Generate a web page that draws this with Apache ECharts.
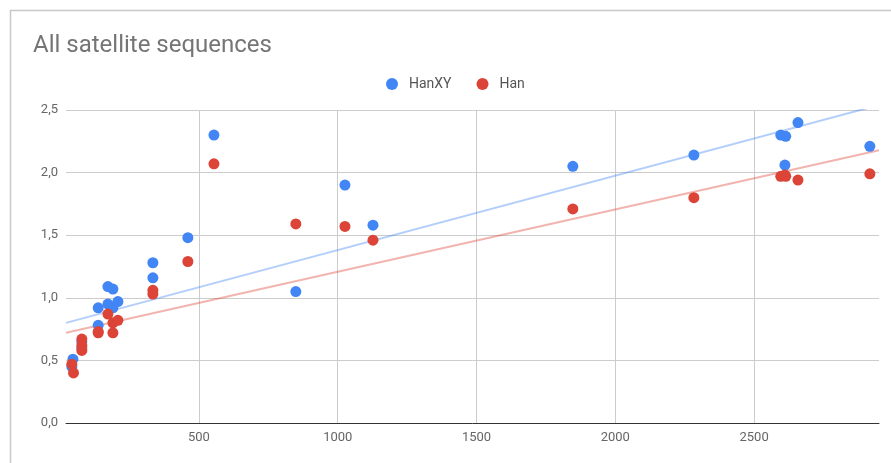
<!DOCTYPE html>
<html>
<head>
<meta charset="utf-8">
<script src="https://cdn.jsdelivr.net/npm/echarts@6/dist/echarts.min.js"></script>
<style>
html,body{margin:0;padding:0;background:#fff;}
#c{width:891px;height:463px;}
</style>
</head>
<body>
<div id="c"></div>
<script>
// Data
var seriesNames = ["HanXY", "Han"];
var hanXY = [
  [46, 0.51], [42, 0.45], [78, 0.65], [78, 0.60],
  [137, 0.92], [137, 0.78], [172, 1.09], [172, 0.95],
  [190, 1.07], [190, 0.92], [208, 0.97],
  [334, 1.28], [334, 1.16], [460, 1.48], [554, 2.30],
  [849, 1.05], [1026, 1.90], [1127, 1.58], [1847, 2.05],
  [2283, 2.14], [2596, 2.30], [2614, 2.29], [2611, 2.06],
  [2658, 2.40], [2917, 2.21]
];
var han = [
  [42, 0.47], [48, 0.40], [78, 0.67], [78, 0.62], [78, 0.58],
  [137, 0.72], [137, 0.73], [172, 0.87], [190, 0.80], [190, 0.72], [208, 0.82],
  [334, 1.06], [334, 1.03], [460, 1.29], [554, 2.07],
  [849, 1.59], [1026, 1.57], [1127, 1.46], [1847, 1.71],
  [2283, 1.80], [2596, 1.97], [2614, 1.97], [2611, 1.98],
  [2658, 1.94], [2917, 1.99]
];
// Trendline coefficients (intercept, slope)
var trendHanXY = [0.7875, 0.000594];
var trendHan = [0.71, 0.000498];
var xTicks = [500, 1000, 1500, 2000, 2500];
var xMin = 21, xMax = 2950;

function trend(c) {
  return [[xMin, c[0] + c[1] * xMin], [xMax, c[0] + c[1] * xMax]];
}

var blue = '#4285F4', red = '#DB4437';
var chart = echarts.init(document.getElementById('c'), null, {renderer: 'canvas'});
chart.setOption({
  animation: false,
  backgroundColor: '#fff',
  graphic: [{
    type: 'rect', left: 8, top: 8,
    shape: {width: 900, height: 470},
    style: {fill: 'none', stroke: '#c8c8c8', lineWidth: 1.5},
    silent: true, z: -1
  }],
  title: {
    text: 'All satellite sequences', left: 28, top: 29,
    textStyle: {fontFamily: 'Roboto', fontSize: 24, fontWeight: 'normal', color: '#757575'}
  },
  legend: {
    data: seriesNames, top: 72, left: 381, itemGap: 25,
    itemWidth: 12, itemHeight: 12, icon: 'circle',
    textStyle: {fontFamily: 'Roboto', fontSize: 14, color: '#555', padding: [0, 0, 0, 6]}
  },
  grid: {left: 66, right: 12, top: 110, bottom: 40},
  xAxis: {
    type: 'value', min: xMin, max: xMax,
    axisLine: {show: true, onZero: false, lineStyle: {color: '#333', width: 1}},
    axisTick: {show: false, customValues: xTicks},
    axisLabel: {customValues: xTicks, color: '#666', fontFamily: 'Roboto', fontSize: 13, margin: 8,
      formatter: function (v) { return String(v); }},
    splitLine: {show: true, lineStyle: {color: '#ccc', width: 1}}
  },
  yAxis: {
    type: 'value', min: 0, max: 2.5, interval: 0.5,
    axisLine: {show: false},
    axisTick: {show: false},
    axisLabel: {
      color: '#666', fontFamily: 'Roboto', fontSize: 13, margin: 8,
      formatter: function (v) { return v.toFixed(1).replace('.', ','); }
    },
    splitLine: {show: true, lineStyle: {color: '#ccc', width: 1}}
  },
  series: [
    {name: 'HanXY', type: 'scatter', data: hanXY, symbolSize: 11, itemStyle: {color: blue, opacity: 1}, z: 3},
    {name: 'Han', type: 'scatter', data: han, symbolSize: 11, itemStyle: {color: red, opacity: 1}, z: 4},
    {name: 'trendXY', type: 'line', data: trend(trendHanXY), symbol: 'none', clip: true,
     lineStyle: {color: blue, width: 2, opacity: 0.4}, z: 2},
    {name: 'trendHan', type: 'line', data: trend(trendHan), symbol: 'none', clip: true,
     lineStyle: {color: red, width: 2, opacity: 0.4}, z: 2}
  ]
});
</script>
</body>
</html>
